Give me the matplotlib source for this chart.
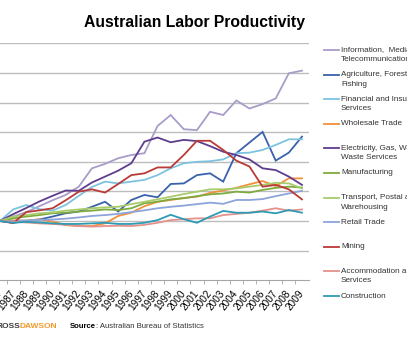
import matplotlib
matplotlib.use('Agg')
import matplotlib.pyplot as plt
from matplotlib.lines import Line2D

plt.rcParams['font.family'] = ['Liberation Sans', 'DejaVu Sans']

# Index values (1986 = 100)
years = list(range(1986, 2010))

info = [100, 101.5, 103, 105, 107, 108.8, 111.6, 117.8, 119.3, 121.2, 122.3, 122.9,
        132.1, 135.8, 131, 130.7, 136.9, 135.8, 140.7, 138, 139.5, 141.4, 149.9, 150.8]
agri = [100, 99.4, 100, 100.5, 101.5, 102.6, 103.2, 104.8, 106.5, 103.2, 107.1, 108.8,
        108, 112.5, 112.7, 115.5, 116.1, 113.3, 122.9, 126.5, 130.1, 120.4, 123.1, 128.5]
fin = [100, 103.9, 105.4, 104, 103.5, 105.4, 108.5, 111.5, 113.3, 112.7, 113.3, 113.9,
       115.5, 117.8, 119.5, 120, 120.2, 120.8, 122.9, 123.1, 124, 125.7, 127.6, 127.6]
whole = [100, 100.2, 100.1, 100.6, 99.8, 98.6, 98.3, 98.3, 99.2, 101.7, 102.8, 105,
         106.5, 107.1, 107.8, 108.2, 109.5, 110.3, 111.2, 112.4, 113.5, 111.8, 114.4, 114.4]
elec = [100, 102.3, 104.4, 106.6, 108.5, 110.3, 110.2, 113, 115, 117, 119.5, 126.8,
        128.2, 126.6, 127.4, 127, 125.3, 123.4, 122.3, 120.8, 117.8, 117.2, 115, 112.2]
manu = [100, 100.9, 101.5, 102, 102.6, 102.8, 103.2, 103.5, 103.9, 103.7, 104.3, 106,
        106.5, 107.3, 107.7, 108.4, 109, 109.3, 109.9, 109.6, 110.5, 111.2, 111.6, 111.3]
trans = [100, 101.5, 102, 102.6, 102.9, 103.5, 103.9, 104.3, 104.6, 104.8, 105.7, 106.5,
         107.3, 108.2, 109.1, 109.9, 110.7, 110.7, 111, 111.6, 112.2, 112.9, 112.7, 111]
retail = [100, 100, 100.2, 100.4, 100.5, 100.8, 101.2, 101.7, 102, 102.4, 103, 103.6,
          104.3, 104.8, 105.2, 105.7, 106.2, 105.8, 107.1, 107.1, 107.4, 108.4, 109.3, 110.2]
mining = [100, 99.3, 103, 103.6, 104.3, 107, 109.9, 110.7, 109.6, 112.5, 115.5, 116.1,
          118.1, 118.1, 122.3, 127.1, 127.1, 124, 120.4, 118.4, 111.6, 112.2, 110.7, 107.3]
accom = [100, 99.8, 99.5, 99.2, 99, 98.7, 98.3, 98.1, 98.3, 98.4, 98.3, 98.7,
         99.4, 100.3, 100.6, 100.9, 100.9, 102, 102.4, 102.8, 103.5, 104.3, 103.5, 103.9]
constr = [100, 99.4, 99.7, 99.5, 99.2, 99, 99, 99.2, 99.4, 99, 99, 99.4,
          100.3, 102.1, 100.6, 99.4, 101.5, 103.4, 102.8, 102.8, 103.2, 102.6, 103.7, 102.8]

labels = ['Information,  Media and\nTelecommunications', 'Agriculture, Forestry and\nFishing',
          'Financial and Insurance\nServices', 'Wholesale Trade',
          'Electricity, Gas, Water and\nWaste Services', 'Manufacturing',
          'Transport, Postal and\nWarehousing', 'Retail Trade', 'Mining',
          'Accommodation and Food\nServices', 'Construction']
series = [info, agri, fin, whole, elec, manu, trans, retail, mining, accom, constr]
colors = ['#A99CC8', '#3A62AC', '#7DC3E0', '#F1913C', '#5E3C8E', '#7EAB3E',
          '#A8CB6C', '#8DA4DA', '#B93A36', '#E4918C', '#2E9BB4']

W, H = 407, 340
fig = plt.figure(figsize=(W / 100, H / 100), dpi=100)
ax = fig.add_axes([-6.56 / W, 1 - 280.2 / H, 315.1 / W, 236.8 / H])

for vals, c in zip(series, colors):
    ax.plot(years, vals, color=c, lw=1.3, solid_joinstyle='miter')

ax.set_xlim(1985.5, 2009.5)
ax.set_ylim(80, 160)
ax.set_yticks(range(90, 161, 10))
ax.yaxis.grid(True, color='#BDBDBD', lw=1.0)
ax.set_axisbelow(True)
ax.tick_params(axis='y', length=0, labelleft=False)
for s in ['top', 'right', 'left']:
    ax.spines[s].set_visible(False)
ax.spines['bottom'].set_color('#A6A6A6')

ax.set_xticks(years)
ax.set_xticklabels([str(y) for y in years], rotation=52, ha='right', va='center',
                   rotation_mode='anchor', fontsize=7.2)
ax.set_xticks([y + 0.5 for y in years[:-1]], minor=True)
ax.tick_params(axis='x', which='major', length=0, pad=8)
ax.tick_params(axis='x', which='minor', length=3, color='#A6A6A6')

fig.text(195 / W, 1 - 22 / H, 'Australian Labor Productivity', fontsize=11.3,
         fontweight='bold', ha='center', va='center')

# legend, Excel style: line aligned with the first text line
for i, (lab, c) in enumerate(zip(labels, colors)):
    ypx = 50 + 24.6 * i
    yy = 1 - ypx / H
    fig.add_artist(Line2D([324 / W, 339 / W], [yy, yy], color=c, lw=1.3))
    for k, part in enumerate(lab.split('\n')):
        fig.text(341 / W, 1 - (ypx + 9.5 * k) / H, part, fontsize=5.9, va='center',
                 ha='left', color='#333333')

# footer
fig.text(20 / W, 1 - 326 / H, 'ROSS', fontsize=6, fontweight='bold', color='#3A3A3A',
         ha='right', va='center')
fig.text(20 / W, 1 - 326 / H, 'DAWSON', fontsize=6, fontweight='bold', color='#F39A2B',
         ha='left', va='center')
fig.text(70 / W, 1 - 326 / H, 'Source', fontsize=5.6, fontweight='bold',
         ha='left', va='center')
fig.text(96 / W, 1 - 326 / H, ': Australian Bureau of Statistics', fontsize=5.6,
         ha='left', va='center', color='#333333')

fig.savefig('out.png', dpi=100)
